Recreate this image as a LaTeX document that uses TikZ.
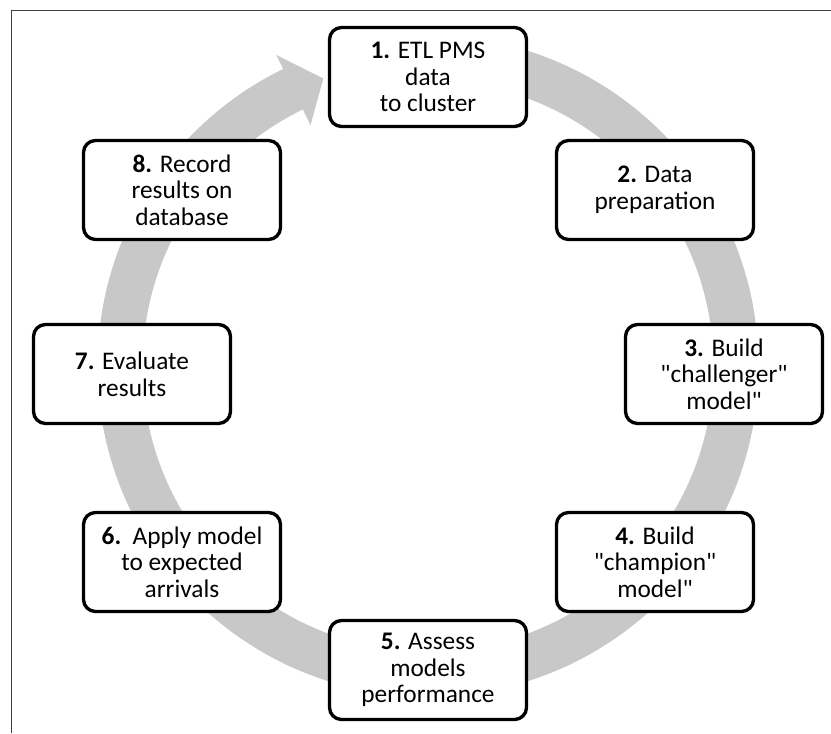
\documentclass[tikz,border=0pt]{standalone}
\usepackage{fontspec}
\setmainfont{Carlito}[Ligatures=TeXOff]
\definecolor{ringgray}{RGB}{200,200,200}
\tikzset{
	stepbox/.style={draw, line width=2.5pt, rounded corners=9pt, fill=white, align=center,
		minimum width=147.75pt, minimum height=74.25pt, inner sep=2pt,
		font=\fontsize{19}{20}\selectfont},
}
\begin{document}
\begin{tikzpicture}[x=0.75pt,y=0.75pt]
			\useasboundingbox (0,0) rectangle (831,733);
			%frame
			\draw[line width=0.75pt, black!75] (11,0) -- (11,722) -- (831,722);
			
			%ring with arrow
			\begin{scope}[shift={(428,367)}]
				\draw[ringgray, line width=33.75pt] (90:308) arc[start angle=90, end angle=-244.5, radius=308];
				\fill[ringgray] (116:346) -- (110:306) -- (116:268) -- cycle;
			\end{scope}
			
			%steps
			\node[stepbox] (etl) at (428,656) {\textbf{1.} ETL PMS\\data\\to cluster};
			\node[stepbox] (prep) at (655,543) {\textbf{2.} Data\\preparation};
			\node[stepbox] (chall) at (724,359) {\textbf{3.} Build\\"challenger"\\model"};
			\node[stepbox] (champ) at (655,171) {\textbf{4.} Build\\"champion"\\model"};
			\node[stepbox] (assess) at (428,63) {\textbf{5.} Assess\\models\\performance};
			\node[stepbox] (apply) at (182,171) {\textbf{6.}\ \ Apply model\\to expected\\arrivals};
			\node[stepbox] (eval) at (132,359) {\textbf{7.} Evaluate\\results};
			\node[stepbox] (record) at (182,543) {\textbf{8.} Record\\results on\\database};
		\end{tikzpicture}
\end{document}
